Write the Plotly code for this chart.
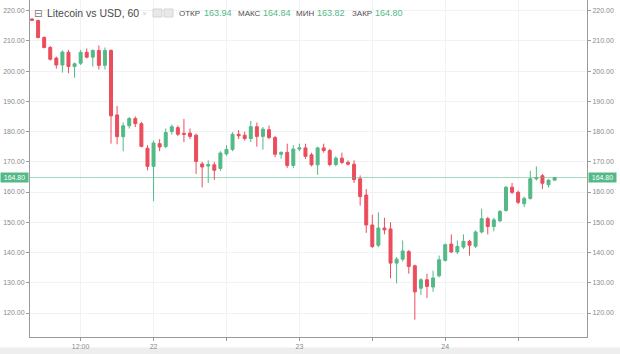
import pandas as pd
import plotly.graph_objects as go

# ---- data (hourly candles, LTC/USD) ----
start_time = "2018-05-21 04:00"
opens = [217.2, 216.7, 211.1, 207.8, 204.3, 202.0, 206.2, 201.5, 202.6, 206.2,
         204.6, 206.8, 201.9, 206.8, 185.5, 178.3, 181.9, 184.3, 182.6, 174.5,
         168.5, 176.0, 175.1, 180.0, 181.3, 179.4, 179.5, 178.8, 169.3, 168.6,
         169.0, 167.8, 172.6, 174.1, 179.1, 178.8, 177.7, 181.6, 178.4, 180.6,
         178.0, 172.5, 173.1, 168.8, 174.2, 174.6, 172.3, 169.0, 174.6, 173.7,
         169.1, 171.2, 169.8, 169.2, 164.4, 159.0, 149.1, 142.4, 148.1, 147.8,
         136.5, 137.8, 140.3, 135.6, 128.2, 131.0, 128.6, 132.3, 137.4, 142.8,
         140.2, 141.8, 143.7, 142.1, 146.8, 151.2, 148.6, 150.5, 153.9, 161.6,
         159.9, 156.1, 157.9, 164.4, 165.4, 162.4, 163.94]
highs = [217.5, 217.0, 211.5, 208.3, 204.8, 206.8, 207.0, 202.8, 207.0, 207.5,
         207.2, 208.5, 207.8, 207.2, 188.5, 183.0, 184.8, 185.0, 183.2, 175.5,
         177.0, 177.5, 181.0, 182.3, 182.0, 184.2, 181.0, 179.3, 170.0, 170.5,
         170.0, 173.5, 175.5, 179.8, 180.5, 180.0, 183.5, 183.0, 181.5, 182.0,
         178.5, 173.5, 176.0, 175.5, 176.0, 176.0, 173.0, 175.0, 176.0, 174.3,
         171.8, 173.0, 170.5, 170.5, 165.5, 161.0, 152.5, 153.3, 151.5, 150.0,
         138.5, 144.0, 140.8, 136.0, 131.5, 133.0, 134.0, 139.0, 143.0, 146.0,
         144.0, 146.0, 144.2, 147.3, 154.5, 151.8, 151.5, 154.0, 162.0, 163.0,
         160.5, 158.5, 167.0, 168.5, 166.0, 164.3, 164.84]
lows = [216.5, 210.8, 207.5, 203.5, 200.8, 199.5, 199.3, 197.8, 202.0, 204.2,
        201.5, 200.5, 200.5, 176.0, 175.8, 173.5, 181.0, 181.5, 174.8, 167.2,
        157.0, 173.5, 174.5, 179.0, 178.5, 176.5, 177.5, 166.0, 161.5, 163.0,
        164.0, 167.0, 172.0, 173.5, 177.5, 177.0, 176.5, 175.0, 174.0, 177.5,
        171.5, 171.0, 168.0, 168.0, 173.5, 171.0, 168.5, 165.7, 173.0, 168.5,
        168.5, 169.2, 168.8, 163.0, 155.5, 146.5, 141.5, 141.8, 146.0, 131.5,
        129.8, 137.0, 133.0, 117.8, 126.0, 125.0, 127.0, 131.8, 137.0, 139.8,
        139.5, 141.2, 139.0, 141.5, 146.3, 146.0, 147.0, 150.0, 153.5, 159.3,
        156.0, 155.0, 157.5, 163.8, 161.0, 161.5, 163.82]
closes = [216.8, 211.1, 207.8, 203.9, 202.0, 206.3, 201.5, 202.4, 206.2, 204.6,
          206.8, 201.9, 206.8, 185.2, 178.3, 181.9, 184.3, 182.6, 175.1, 168.5,
          176.2, 174.9, 179.7, 181.6, 179.1, 179.1, 178.4, 170.1, 168.3, 169.1,
          167.2, 172.9, 174.1, 179.1, 178.6, 177.7, 181.6, 178.4, 180.8, 178.0,
          172.5, 173.1, 168.8, 174.2, 174.6, 171.8, 169.0, 174.6, 173.7, 169.1,
          171.2, 169.8, 169.2, 164.1, 158.5, 149.1, 142.0, 148.1, 147.5, 136.5,
          137.8, 140.5, 135.4, 127.0, 131.0, 128.8, 131.6, 137.6, 142.6, 140.2,
          142.0, 143.7, 142.4, 146.8, 151.2, 148.6, 150.8, 153.6, 161.6, 159.9,
          156.6, 157.9, 164.4, 164.8, 162.9, 163.9, 164.80]

last_price = 164.80
y_ticks = [120, 130, 140, 150, 160, 170, 180, 190, 200, 210, 220]
x_tick_times = ["2018-05-21 12:00", "2018-05-22 00:00", "2018-05-22 12:00",
                "2018-05-23 00:00", "2018-05-23 12:00", "2018-05-24 00:00",
                "2018-05-24 12:00"]
x_tick_text = ["12:00", "22", "", "23", "", "24", ""]
header = [("ОТКР", "163.94"), ("МАКС", "164.84"), ("МИН", "163.82"), ("ЗАКР", "164.80")]

times = pd.date_range(start_time, periods=len(opens), freq="h")

UP = "#53b987"
DOWN = "#eb4d5c"
GRID = "#f0f2f5"
AXIS = "#9a9a9a"
TXT = "#8a8a8a"
FONT = "Liberation Sans"

W, H = 620, 354
ML, MR, MT, MB = 30, 33, 0, 17
PW, PH = W - ML - MR, H - MT - MB


def px2x(px):
    return (px - ML) / PW


def py2y(py):
    return 1 - (py - MT) / PH


fig = go.Figure()
fig.add_trace(go.Candlestick(
    x=times, open=opens, high=highs, low=lows, close=closes,
    increasing=dict(line=dict(color=UP, width=1), fillcolor=UP),
    decreasing=dict(line=dict(color=DOWN, width=1), fillcolor=DOWN),
    whiskerwidth=0, showlegend=False, hoverinfo="skip",
))
# invisible trace for the right price axis
fig.add_trace(go.Scatter(x=[times[0]], y=[last_price], yaxis="y2",
                         mode="markers", marker=dict(opacity=0),
                         showlegend=False, hoverinfo="skip"))

yr = [112.07, 223.5]
fig.update_layout(
    width=W, height=H,
    margin=dict(l=ML, r=MR, t=MT, b=MB),
    paper_bgcolor="white", plot_bgcolor="white",
    font=dict(family=FONT, size=7, color=TXT),
    xaxis=dict(
        type="date", range=["2018-05-21 03:40", "2018-05-24 23:20"],
        rangeslider=dict(visible=False),
        tickvals=x_tick_times, ticktext=x_tick_text,
        showgrid=True, gridcolor=GRID, gridwidth=1,
        showline=True, linecolor=AXIS, linewidth=1,
        ticks="outside", ticklen=3, tickcolor=AXIS,
        tickfont=dict(size=7, color=TXT), zeroline=False,
    ),
    yaxis=dict(
        range=yr, tickvals=y_ticks, tickformat=".2f",
        showgrid=True, gridcolor=GRID, gridwidth=1,
        showline=True, linecolor=AXIS, linewidth=1,
        ticks="outside", ticklen=3, tickcolor=AXIS,
        tickfont=dict(size=7, color=TXT), zeroline=False,
    ),
    yaxis2=dict(
        range=yr, tickvals=y_ticks, tickformat=".2f",
        overlaying="y", side="right", showgrid=False,
        showline=True, linecolor=AXIS, linewidth=1,
        ticks="outside", ticklen=3, tickcolor=AXIS,
        tickfont=dict(size=7, color=TXT), zeroline=False,
    ),
)

shapes = [
    dict(type="line", xref="paper", yref="y", x0=0, x1=1, y0=last_price, y1=last_price,
         line=dict(color="rgba(83,185,135,0.55)", width=1)),
    dict(type="rect", xref="paper", yref="paper", x0=px2x(0), x1=px2x(W),
         y0=py2y(H), y1=py2y(347.5), fillcolor="#eeeeee", line=dict(width=0), layer="below"),
    dict(type="rect", xref="paper", yref="paper", x0=px2x(153), x1=px2x(162),
         y0=py2y(17), y1=py2y(9), fillcolor="#e8e8e8", line=dict(color="#d4d4d4", width=1)),
    dict(type="rect", xref="paper", yref="paper", x0=px2x(164), x1=px2x(173),
         y0=py2y(17), y1=py2y(9), fillcolor="#e8e8e8", line=dict(color="#d4d4d4", width=1)),
]
fig.update_layout(shapes=shapes)

ann = []
for side, xa, xanc, xs in (("l", 0, "right", -1), ("r", 1, "left", 1)):
    ann.append(dict(xref="paper", yref="y", x=xa, y=last_price, xanchor=xanc, yanchor="middle",
                    xshift=xs, text=f"{last_price:.2f}", showarrow=False,
                    bgcolor=UP, font=dict(color="white", size=7, family=FONT),
                    width=27, height=9, borderpad=0, align="center"))

ann.append(dict(xref="paper", yref="paper", x=px2x(32), y=py2y(13.5), xanchor="left",
                yanchor="middle", text="⊟", showarrow=False,
                font=dict(family="DejaVu Sans", size=10, color="#777777")))
ann.append(dict(xref="paper", yref="paper", x=px2x(45), y=py2y(13.5), xanchor="left",
                yanchor="middle", text="Litecoin vs USD, 60", showarrow=False,
                font=dict(family=FONT, size=10.5, color="#4a4a4a")))
ann.append(dict(xref="paper", yref="paper", x=px2x(141), y=py2y(13), xanchor="left",
                yanchor="middle", text="v", showarrow=False,
                font=dict(family=FONT, size=6, color="#bbbbbb")))
label_x = [177, 236, 294, 350]
value_x = [202, 261, 315, 373]
for (lab, val), lx, vx in zip(header, label_x, value_x):
    ann.append(dict(xref="paper", yref="paper", x=px2x(lx), y=py2y(13.5), xanchor="left",
                    yanchor="middle", text=lab, showarrow=False,
                    font=dict(family=FONT, size=8, color="#4f4f4f")))
    ann.append(dict(xref="paper", yref="paper", x=px2x(vx), y=py2y(13.5), xanchor="left",
                    yanchor="middle", text=val, showarrow=False,
                    font=dict(family=FONT, size=9, color=UP)))
fig.update_layout(annotations=ann)

fig.write_html("out.html")
